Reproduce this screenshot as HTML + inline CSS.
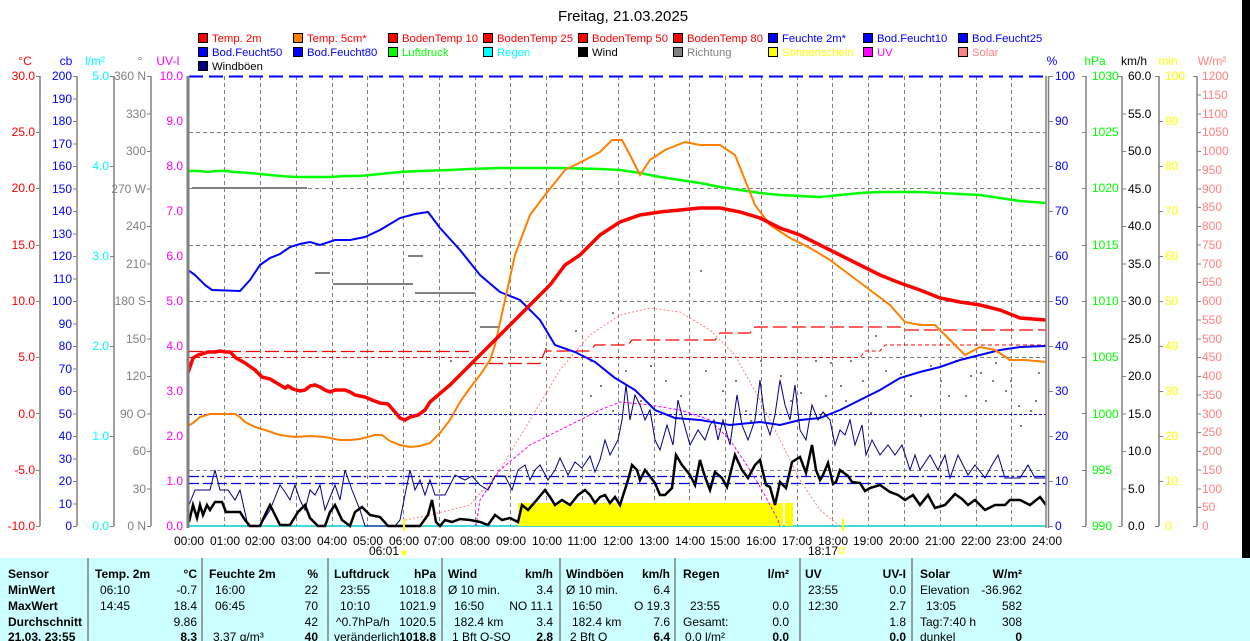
<!DOCTYPE html>
<html><head><meta charset="utf-8"><style>
html,body{margin:0;padding:0;background:#fff;}
svg{display:block;font-family:"Liberation Sans",Arial,sans-serif;}
</style></head><body>
<svg width="1250" height="641" viewBox="0 0 1250 641" xmlns="http://www.w3.org/2000/svg">
<rect x="0" y="0" width="1250" height="641" fill="#fff"/>
<rect x="1242" y="0" width="8" height="558" fill="#000"/>
<text x="623" y="21" font-size="15" text-anchor="middle" fill="#000">Freitag, 21.03.2025</text>

<!-- legend -->
<g font-size="11.3">
<g stroke="#000" stroke-width="1">
<rect x="198.5" y="33.5" width="9" height="9" fill="#f00"/><rect x="293.5" y="33.5" width="9" height="9" fill="#ff8000"/><rect x="388.5" y="33.5" width="9" height="9" fill="#f00"/><rect x="483.5" y="33.5" width="9" height="9" fill="#f00"/><rect x="578.5" y="33.5" width="9" height="9" fill="#f00"/><rect x="673.5" y="33.5" width="9" height="9" fill="#f00"/><rect x="768.5" y="33.5" width="9" height="9" fill="#00f"/><rect x="863.5" y="33.5" width="9" height="9" fill="#00f"/><rect x="958.5" y="33.5" width="9" height="9" fill="#00f"/>
<rect x="198.5" y="47.5" width="9" height="9" fill="#00f"/><rect x="293.5" y="47.5" width="9" height="9" fill="#00f"/><rect x="388.5" y="47.5" width="9" height="9" fill="#0f0"/><rect x="483.5" y="47.5" width="9" height="9" fill="#0ff"/><rect x="578.5" y="47.5" width="9" height="9" fill="#000"/><rect x="673.5" y="47.5" width="9" height="9" fill="#808080"/><rect x="768.5" y="47.5" width="9" height="9" fill="#ff0"/><rect x="863.5" y="47.5" width="9" height="9" fill="#f0f"/><rect x="958.5" y="47.5" width="9" height="9" fill="#ff8080"/>
<rect x="198.5" y="61.5" width="9" height="9" fill="#000080"/>
</g>
<text x="212" y="42" fill="#f00">Temp. 2m</text><text x="307" y="42" fill="#f00">Temp. 5cm*</text><text x="402" y="42" fill="#f00">BodenTemp 10</text><text x="497" y="42" fill="#f00">BodenTemp 25</text><text x="592" y="42" fill="#f00">BodenTemp 50</text><text x="687" y="42" fill="#f00">BodenTemp 80</text><text x="782" y="42" fill="#00f">Feuchte 2m*</text><text x="877" y="42" fill="#00f">Bod.Feucht10</text><text x="972" y="42" fill="#00f">Bod.Feucht25</text>
<text x="212" y="56" fill="#00f">Bod.Feucht50</text><text x="307" y="56" fill="#00f">Bod.Feucht80</text><text x="402" y="56" fill="#0f0">Luftdruck</text><text x="497" y="56" fill="#0ff">Regen</text><text x="592" y="56" fill="#000">Wind</text><text x="687" y="56" fill="#808080">Richtung</text><text x="782" y="56" fill="#ff0">Sonnenschein</text><text x="877" y="56" fill="#f0f">UV</text><text x="972" y="56" fill="#ff8080">Solar</text>
<text x="212" y="70" fill="#000">Windböen</text>
</g>

<!-- axis titles -->
<g font-size="12" text-anchor="middle">
<text x="25" y="65" fill="#f00">°C</text><text x="66" y="65" fill="#00f">cb</text><text x="95" y="65" fill="#0ff">l/m²</text><text x="140" y="65" fill="#808080">°</text><text x="168" y="65" fill="#f0f">UV-I</text>
<text x="1052" y="65" fill="#00f">%</text><text x="1095" y="65" fill="#0f0">hPa</text><text x="1134" y="65" fill="#000">km/h</text><text x="1168" y="65" fill="#ff0">min</text><text x="1212" y="65" fill="#ff8080">W/m²</text>
</g>

<!-- axis lines -->
<g stroke="#808080" stroke-width="1.5">
<line x1="40" y1="76" x2="40" y2="526"/><line x1="77" y1="76" x2="77" y2="526"/><line x1="114" y1="76" x2="114" y2="526"/><line x1="151" y1="76" x2="151" y2="526"/>
<line x1="1086" y1="76" x2="1086" y2="526"/><line x1="1122" y1="76" x2="1122" y2="526"/><line x1="1159" y1="76" x2="1159" y2="526"/><line x1="1197" y1="76" x2="1197" y2="526"/>
</g>

<!-- plot grid -->
<g stroke="#808080" stroke-width="1" stroke-dasharray="4,3" fill="none">
<path d="M224.5 76V526M260.5 76V526M296.5 76V526M332.5 76V526M367.5 76V526M403.5 76V526M439.5 76V526M475.5 76V526M510.5 76V526M546.5 76V526M582.5 76V526M618.5 76V526M654.5 76V526M689.5 76V526M725.5 76V526M761.5 76V526M797.5 76V526M832.5 76V526M868.5 76V526M904.5 76V526M940.5 76V526M976.5 76V526M1011.5 76V526"/>
<path d="M189 132.5H1046M189 188.5H1046M189 245.5H1046M189 301.5H1046M189 357.5H1046M189 470.5H1046"/>
</g>
<line x1="189" y1="526" x2="1046" y2="526" stroke="#0cc" stroke-width="1.5"/>

<!-- yellow sunshine -->
<path d="M518 526V503H783V526ZM785 526V503H793V526Z" fill="#ff0"/>

<!-- blue dashed horizontals -->
<line x1="189" y1="76.5" x2="1046" y2="76.5" stroke="#00f" stroke-width="2" stroke-dasharray="14,6"/>
<line x1="189" y1="414.5" x2="1046" y2="414.5" stroke="#00f" stroke-width="1" stroke-dasharray="3,2"/>
<line x1="189" y1="476.5" x2="1046" y2="476.5" stroke="#00f" stroke-width="1.3" stroke-dasharray="10,3,2,3"/>
<line x1="189" y1="483.5" x2="1046" y2="483.5" stroke="#00f" stroke-width="1.3" stroke-dasharray="10,4"/>

<!-- boden temps -->
<path d="M189 351.5H470M470 363.5H540L545 351H590L595 345H628L632 340H715L720 333H750L755 327H900L905 330H1046" stroke="#f00" stroke-width="1.2" fill="none" stroke-dasharray="14,5"/>
<path d="M189 357.5H860L865 351H880L885 345H1046" stroke="#f00" stroke-width="1" fill="none" stroke-dasharray="4,3"/>

<!-- wind direction dots -->
<g fill="#808080">
<path d="M192 187h115v2h-115zM315 272h15v2h-15zM333 283h80v2h-80zM415 292h60v2h-60zM480 326h20v2h-20zM408 255h15v2h-15z"/>
<rect x="560" y="300" width="2" height="2"/><rect x="575" y="330" width="2" height="2"/><rect x="590" y="360" width="2" height="2"/><rect x="612" y="312" width="2" height="2"/><rect x="640" y="400" width="2" height="2"/><rect x="665" y="380" width="2" height="2"/><rect x="700" y="270" width="2" height="2"/><rect x="722" y="390" width="2" height="2"/><rect x="750" y="420" width="2" height="2"/><rect x="780" y="375" width="2" height="2"/><rect x="800" y="392" width="2" height="2"/><rect x="815" y="360" width="2" height="2"/><rect x="840" y="385" width="2" height="2"/><rect x="850" y="360" width="2" height="2"/><rect x="875" y="335" width="2" height="2"/><rect x="900" y="373" width="2" height="2"/><rect x="920" y="415" width="2" height="2"/><rect x="940" y="380" width="2" height="2"/><rect x="955" y="360" width="2" height="2"/><rect x="965" y="395" width="2" height="2"/><rect x="980" y="372" width="2" height="2"/><rect x="992" y="380" width="2" height="2"/><rect x="1005" y="390" width="2" height="2"/><rect x="1018" y="405" width="2" height="2"/><rect x="1030" y="410" width="2" height="2"/><rect x="1020" y="425" width="2" height="2"/><rect x="985" y="400" width="2" height="2"/><rect x="1000" y="353" width="2" height="2"/><rect x="600" y="385" width="2" height="2"/><rect x="545" y="348" width="2" height="2"/><rect x="450" y="360" width="2" height="2"/>
<rect x="590" y="395" width="2" height="2"/><rect x="625" y="370" width="2" height="2"/><rect x="650" y="365" width="2" height="2"/><rect x="680" y="395" width="2" height="2"/><rect x="705" y="370" width="2" height="2"/><rect x="735" y="380" width="2" height="2"/><rect x="760" y="360" width="2" height="2"/><rect x="790" y="400" width="2" height="2"/><rect x="825" y="395" width="2" height="2"/><rect x="830" y="362" width="2" height="2"/><rect x="845" y="400" width="2" height="2"/><rect x="862" y="380" width="2" height="2"/><rect x="885" y="370" width="2" height="2"/><rect x="910" y="395" width="2" height="2"/><rect x="930" y="365" width="2" height="2"/><rect x="948" y="395" width="2" height="2"/><rect x="970" y="375" width="2" height="2"/><rect x="995" y="362" width="2" height="2"/><rect x="1010" y="380" width="2" height="2"/><rect x="1038" y="372" width="2" height="2"/><rect x="1035" y="400" width="2" height="2"/><rect x="870" y="412" width="2" height="2"/><rect x="612" y="410" width="2" height="2"/><rect x="745" y="410" width="2" height="2"/>
</g>

<!-- solar -->
<polyline points="405,520 430,515 470,505 500,470 530,420 560,370 590,335 620,315 650,308 680,312 710,330 735,355 760,400 780,440 800,480 820,510 840,526" fill="none" stroke="#ff8080" stroke-width="1" stroke-dasharray="2,2"/>
<!-- UV -->
<polyline points="476,526 480,500 500,470 530,445 560,430 580,420 600,410 620,402 650,405 680,410 710,420 730,440 750,470 762,490 778,520 780,526" fill="none" stroke="#f0f" stroke-width="1" stroke-dasharray="3,2"/>

<!-- Luftdruck -->
<polyline points="189,171 200,171 208,172 215,171 225,171 235,172 250,173 260,174 270,175 280,176 295,177 310,177 330,177 345,176 360,176 370,175 380,174 400,172 420,171 450,170 470,169 500,168 530,168 560,168 600,169 620,170 640,173 660,177 680,180 700,183 720,187 740,190 760,193 780,195 800,196 820,197 840,195 860,193 880,192 900,192 920,192 940,193 960,194 980,195 1000,198 1020,201 1046,203" fill="none" stroke="#0f0" stroke-width="2.5"/>

<!-- humidity -->
<polyline points="188,270 195,275 205,285 212,290 240,291 250,280 260,265 270,258 280,254 290,247 300,244 310,242 320,245 335,240 350,240 365,237 380,230 400,218 415,214 428,212 440,228 460,250 480,275 500,292 520,300 540,320 555,345 575,352 595,362 615,378 635,390 655,410 675,418 700,420 730,425 760,422 780,425 800,420 820,418 840,410 860,400 880,390 900,378 920,372 940,367 960,360 980,355 1000,350 1020,347 1046,346" fill="none" stroke="#00f" stroke-width="2"/>

<!-- temp 5cm -->
<polyline points="188,426 193,423 200,417 210,414 220,414 235,414 240,417 245,422 255,427 265,430 280,435 295,437 310,436 325,437 330,438 340,440 350,440 360,439 375,435 382,435 390,441 400,445 410,447 420,446 430,443 440,433 450,420 460,402 470,388 480,375 490,360 495,345 505,300 515,255 530,215 545,195 565,170 585,160 600,152 612,140 622,140 630,155 640,175 650,160 665,150 685,142 700,145 720,145 735,155 745,180 755,205 770,225 790,238 810,248 830,260 850,275 870,290 890,305 905,322 920,325 935,325 950,340 965,355 980,347 995,350 1010,360 1025,360 1046,362" fill="none" stroke="#ff8000" stroke-width="2"/>

<!-- temp 2m -->
<polyline points="188,373 193,358 198,355 202,354 208,352 215,352 220,351 225,352 230,352 236,358 245,363 255,370 262,377 270,379 275,382 280,385 285,388 288,386 293,389 300,391 305,390 310,386 315,385 320,387 325,390 330,392 335,390 345,390 350,392 355,395 360,396 365,397 372,400 380,403 388,404 395,412 400,418 405,420 410,417 418,415 425,410 430,402 450,385 470,365 490,345 510,325 530,305 550,285 565,265 580,255 600,235 620,222 640,215 660,212 680,210 700,208 720,208 740,212 760,218 780,228 800,235 820,245 840,255 860,265 880,275 900,283 920,290 940,298 960,302 980,305 1000,310 1020,318 1046,320" fill="none" stroke="#f00" stroke-width="3.5"/>

<!-- gusts -->
<polyline points="189,505 195,490 210,490 215,470 220,490 228,490 235,500 240,490 248,526 260,526 270,510 280,485 285,492 290,500 295,485 300,500 305,510 310,490 315,495 320,485 325,510 335,485 340,500 345,470 352,490 360,510 365,526 380,526 395,526 400,520 410,470 415,490 420,480 425,495 430,480 435,495 445,495 455,475 465,480 472,476 480,485 488,490 495,476 505,476 512,490 518,470 525,465 530,480 535,470 540,465 548,480 555,470 560,458 568,475 575,462 582,468 590,456 595,472 600,460 605,440 610,455 618,440 622,420 626,385 630,420 635,395 640,405 645,420 650,410 655,440 660,450 667,425 673,445 678,400 683,420 690,445 698,430 705,440 710,425 714,420 718,440 723,420 730,445 737,395 742,425 748,440 755,420 760,380 765,420 770,435 775,415 780,380 785,405 790,420 795,385 800,430 806,440 812,405 818,420 823,412 830,420 835,445 840,430 845,435 850,420 855,445 862,425 866,455 872,440 880,455 888,445 895,455 902,445 910,470 915,455 920,470 930,455 938,470 945,455 950,478 958,455 968,475 975,465 985,478 992,465 998,455 1005,478 1020,478 1028,465 1035,478 1046,478" fill="none" stroke="#000080" stroke-width="1"/>

<!-- wind -->
<polyline points="189,522 193,505 197,518 200,505 203,515 207,505 210,510 215,502 222,502 226,512 240,512 245,520 250,526 260,526 265,515 270,505 275,515 280,525 290,525 298,512 305,505 310,518 318,526 325,526 330,512 335,505 342,520 350,526 355,512 362,507 370,515 380,517 388,526 400,526 420,526 428,515 432,500 436,522 440,526 445,520 452,522 460,519 470,520 480,522 488,525 495,515 502,520 510,518 518,522 522,505 528,510 535,502 545,490 550,497 555,505 562,500 570,505 578,495 585,490 590,495 595,503 600,497 605,495 610,503 615,497 620,505 628,480 632,465 637,470 640,480 645,470 655,483 660,495 665,495 672,488 676,455 682,465 690,475 695,485 700,460 705,477 710,490 715,472 722,478 727,487 735,455 742,470 748,478 755,465 760,460 766,485 770,487 775,505 780,482 786,488 792,462 800,457 806,473 812,445 816,470 820,480 823,475 828,463 833,484 836,482 840,470 848,476 852,482 860,483 865,491 870,488 880,485 890,492 898,495 905,500 913,495 920,505 928,495 935,508 945,505 955,494 962,499 968,505 975,500 985,510 995,505 1005,505 1010,500 1020,500 1030,505 1040,497 1046,505" fill="none" stroke="#000" stroke-width="2.5"/>

<!-- plot frame -->
<line x1="188" y1="76" x2="188" y2="528" stroke="#808080" stroke-width="3"/>
<line x1="1046" y1="76" x2="1046" y2="528" stroke="#808080" stroke-width="1.5"/>
<line x1="1048.5" y1="76" x2="1048.5" y2="528" stroke="#808080" stroke-width="1.5"/>
<line x1="404" y1="519" x2="404" y2="531" stroke="#ff0" stroke-width="2"/>
<line x1="843" y1="519" x2="843" y2="531" stroke="#ff0" stroke-width="2"/>

<!-- time labels -->
<g font-size="12" text-anchor="middle" fill="#000">
<text x="189" y="545">00:00</text><text x="225" y="545">01:00</text><text x="260" y="545">02:00</text><text x="296" y="545">03:00</text><text x="332" y="545">04:00</text><text x="368" y="545">05:00</text><text x="404" y="545">06:00</text><text x="439" y="545">07:00</text><text x="475" y="545">08:00</text><text x="511" y="545">09:00</text><text x="547" y="545">10:00</text><text x="582" y="545">11:00</text><text x="618" y="545">12:00</text><text x="654" y="545">13:00</text><text x="690" y="545">14:00</text><text x="725" y="545">15:00</text><text x="761" y="545">16:00</text><text x="797" y="545">17:00</text><text x="833" y="545">18:00</text><text x="868" y="545">19:00</text><text x="904" y="545">20:00</text><text x="940" y="545">21:00</text><text x="976" y="545">22:00</text><text x="1011" y="545">23:00</text><text x="1047" y="545">24:00</text>
<text x="384" y="555">06:01</text><text x="823" y="555">18:17</text>
</g>
<text x="404" y="556" font-size="10" fill="#ff0" text-anchor="middle">★</text>
<rect x="839" y="548" width="5" height="5" fill="none" stroke="#ff0"/>

<!-- table -->
<rect x="0" y="558" width="1250" height="83" fill="#ccffff"/>
<g stroke="#808080" stroke-width="1.5">
<line x1="88" y1="558" x2="88" y2="641"/><line x1="202" y1="558" x2="202" y2="641"/><line x1="328" y1="558" x2="328" y2="641"/><line x1="442" y1="558" x2="442" y2="641"/><line x1="560" y1="558" x2="560" y2="641"/><line x1="675" y1="558" x2="675" y2="641"/><line x1="800" y1="558" x2="800" y2="641"/><line x1="912" y1="558" x2="912" y2="641"/>
</g>
<g font-size="12" fill="#000">
<g font-weight="bold">
<text x="8" y="578">Sensor</text><text x="8" y="594">MinWert</text><text x="8" y="610">MaxWert</text><text x="8" y="626">Durchschnitt</text><text x="8" y="641">21.03. 23:55</text>
<text x="95" y="578">Temp. 2m</text><text x="197" y="578" text-anchor="end">°C</text>
<text x="209" y="578">Feuchte 2m</text><text x="318" y="578" text-anchor="end">%</text>
<text x="334" y="578">Luftdruck</text><text x="436" y="578" text-anchor="end">hPa</text>
<text x="448" y="578">Wind</text><text x="553" y="578" text-anchor="end">km/h</text>
<text x="566" y="578">Windböen</text><text x="670" y="578" text-anchor="end">km/h</text>
<text x="683" y="578">Regen</text><text x="789" y="578" text-anchor="end">l/m²</text>
<text x="805" y="578">UV</text><text x="906" y="578" text-anchor="end">UV-I</text>
<text x="920" y="578">Solar</text><text x="1022" y="578" text-anchor="end">W/m²</text>
<text x="197" y="641" text-anchor="end">8.3</text><text x="318" y="641" text-anchor="end">40</text><text x="436" y="641" text-anchor="end">1018.8</text><text x="553" y="641" text-anchor="end">2.8</text><text x="670" y="641" text-anchor="end">6.4</text><text x="789" y="641" text-anchor="end">0.0</text><text x="906" y="641" text-anchor="end">0.0</text><text x="1022" y="641" text-anchor="end">0</text>
</g>
<text x="100" y="594">06:10</text><text x="197" y="594" text-anchor="end">-0.7</text>
<text x="100" y="610">14:45</text><text x="197" y="610" text-anchor="end">18.4</text>
<text x="197" y="626" text-anchor="end">9.86</text>
<text x="215" y="594">16:00</text><text x="318" y="594" text-anchor="end">22</text>
<text x="215" y="610">06:45</text><text x="318" y="610" text-anchor="end">70</text>
<text x="318" y="626" text-anchor="end">42</text>
<text x="213" y="641">3.37 g/m³</text>
<text x="340" y="594">23:55</text><text x="436" y="594" text-anchor="end">1018.8</text>
<text x="340" y="610">10:10</text><text x="436" y="610" text-anchor="end">1021.9</text>
<text x="336" y="626">^0.7hPa/h</text><text x="436" y="626" text-anchor="end">1020.5</text>
<text x="334" y="641">veränderlich</text>
<text x="448" y="594">Ø 10 min.</text><text x="553" y="594" text-anchor="end">3.4</text>
<text x="454" y="610">16:50</text><text x="553" y="610" text-anchor="end">NO 11.1</text>
<text x="454" y="626">182.4 km</text><text x="553" y="626" text-anchor="end">3.4</text>
<text x="452" y="641">1 Bft O-SO</text>
<text x="566" y="594">Ø 10 min.</text><text x="670" y="594" text-anchor="end">6.4</text>
<text x="572" y="610">16:50</text><text x="670" y="610" text-anchor="end">O 19.3</text>
<text x="572" y="626">182.4 km</text><text x="670" y="626" text-anchor="end">7.6</text>
<text x="570" y="641">2 Bft O</text>
<text x="690" y="610">23:55</text><text x="789" y="610" text-anchor="end">0.0</text>
<text x="683" y="626">Gesamt:</text><text x="789" y="626" text-anchor="end">0.0</text>
<text x="685" y="641">0.0 l/m²</text>
<text x="808" y="594">23:55</text><text x="906" y="594" text-anchor="end">0.0</text>
<text x="808" y="610">12:30</text><text x="906" y="610" text-anchor="end">2.7</text>
<text x="906" y="626" text-anchor="end">1.8</text>
<text x="920" y="594">Elevation</text><text x="1022" y="594" text-anchor="end">-36.962</text>
<text x="926" y="610">13:05</text><text x="1022" y="610" text-anchor="end">582</text>
<text x="920" y="626">Tag:7:40 h</text><text x="1022" y="626" text-anchor="end">308</text>
<text x="920" y="641">dunkel</text>
</g>

<!-- axis tick labels -->
<g font-size="12">
<g fill="#f00" text-anchor="end"><text x="35" y="80">30.0</text><text x="35" y="136">25.0</text><text x="35" y="192">20.0</text><text x="35" y="249">15.0</text><text x="35" y="305">10.0</text><text x="35" y="361">5.0</text><text x="35" y="418">0.0</text><text x="35" y="474">-5.0</text><text x="35" y="530">-10.0</text></g>
<g fill="#00f" text-anchor="end"><text x="72" y="80">200</text><text x="72" y="103">190</text><text x="72" y="125">180</text><text x="72" y="148">170</text><text x="72" y="170">160</text><text x="72" y="193">150</text><text x="72" y="215">140</text><text x="72" y="238">130</text><text x="72" y="260">120</text><text x="72" y="283">110</text><text x="72" y="305">100</text><text x="72" y="328">90</text><text x="72" y="350">80</text><text x="72" y="373">70</text><text x="72" y="395">60</text><text x="72" y="418">50</text><text x="72" y="440">40</text><text x="72" y="463">30</text><text x="72" y="485">20</text><text x="72" y="508">10</text><text x="72" y="530">0</text></g>
<g fill="#0ff" text-anchor="end"><text x="109" y="80">5.0</text><text x="109" y="170">4.0</text><text x="109" y="260">3.0</text><text x="109" y="350">2.0</text><text x="109" y="440">1.0</text><text x="109" y="530">0.0</text></g>
<g fill="#808080" text-anchor="end"><text x="146" y="80">360 N</text><text x="146" y="118">330</text><text x="146" y="155">300</text><text x="146" y="193">270 W</text><text x="146" y="230">240</text><text x="146" y="268">210</text><text x="146" y="305">180 S</text><text x="146" y="343">150</text><text x="146" y="380">120</text><text x="146" y="418">90 O</text><text x="146" y="455">60</text><text x="146" y="493">30</text><text x="146" y="530">0 N</text></g>
<g fill="#f0f" text-anchor="end"><text x="183" y="80">10.0</text><text x="183" y="125">9.0</text><text x="183" y="170">8.0</text><text x="183" y="215">7.0</text><text x="183" y="260">6.0</text><text x="183" y="305">5.0</text><text x="183" y="350">4.0</text><text x="183" y="395">3.0</text><text x="183" y="440">2.0</text><text x="183" y="485">1.0</text><text x="183" y="530">0.0</text></g>
<g fill="#00f"><text x="1055" y="80">100</text><text x="1055" y="125">90</text><text x="1055" y="170">80</text><text x="1055" y="215">70</text><text x="1055" y="260">60</text><text x="1055" y="305">50</text><text x="1055" y="350">40</text><text x="1055" y="395">30</text><text x="1055" y="440">20</text><text x="1055" y="485">10</text><text x="1055" y="530">0</text></g>
<g fill="#0f0"><text x="1092" y="80">1030</text><text x="1092" y="136">1025</text><text x="1092" y="192">1020</text><text x="1092" y="249">1015</text><text x="1092" y="305">1010</text><text x="1092" y="361">1005</text><text x="1092" y="418">1000</text><text x="1092" y="474">995</text><text x="1092" y="530">990</text></g>
<g fill="#000"><text x="1128" y="80">60.0</text><text x="1128" y="118">55.0</text><text x="1128" y="155">50.0</text><text x="1128" y="193">45.0</text><text x="1128" y="230">40.0</text><text x="1128" y="268">35.0</text><text x="1128" y="305">30.0</text><text x="1128" y="343">25.0</text><text x="1128" y="380">20.0</text><text x="1128" y="418">15.0</text><text x="1128" y="455">10.0</text><text x="1128" y="493">5.0</text><text x="1128" y="530">0.0</text></g>
<g fill="#ff0"><text x="1165" y="80">100</text><text x="1165" y="125">90</text><text x="1165" y="170">80</text><text x="1165" y="215">70</text><text x="1165" y="260">60</text><text x="1165" y="305">50</text><text x="1165" y="350">40</text><text x="1165" y="395">30</text><text x="1165" y="440">20</text><text x="1165" y="485">10</text><text x="1165" y="530">0</text></g>
<g fill="#ff8080"><text x="1202" y="80">1200</text><text x="1202" y="99">1150</text><text x="1202" y="118">1100</text><text x="1202" y="136">1050</text><text x="1202" y="155">1000</text><text x="1202" y="174">950</text><text x="1202" y="193">900</text><text x="1202" y="211">850</text><text x="1202" y="230">800</text><text x="1202" y="249">750</text><text x="1202" y="268">700</text><text x="1202" y="286">650</text><text x="1202" y="305">600</text><text x="1202" y="324">550</text><text x="1202" y="343">500</text><text x="1202" y="361">450</text><text x="1202" y="380">400</text><text x="1202" y="399">350</text><text x="1202" y="418">300</text><text x="1202" y="436">250</text><text x="1202" y="455">200</text><text x="1202" y="474">150</text><text x="1202" y="493">100</text><text x="1202" y="511">50</text><text x="1202" y="530">0</text></g>
</g>
<!-- ticks -->
<g stroke="#808080" stroke-width="1">
<path d="M36 76.5h4M36 132.5h4M36 188.5h4M36 245.5h4M36 301.5h4M36 357.5h4M36 413.5h4M36 470.5h4M36 526.5h4"/>
<path d="M73 76.5h4M73 99h4M73 121.5h4M73 144h4M73 166.5h4M73 189h4M73 211.5h4M73 234h4M73 256.5h4M73 279h4M73 301.5h4M73 324h4M73 346.5h4M73 369h4M73 391.5h4M73 414h4M73 436.5h4M73 459h4M73 481.5h4M73 504h4M73 526.5h4"/>
<path d="M110 76.5h4M110 166.5h4M110 256.5h4M110 346.5h4M110 436.5h4M110 526.5h4"/>
<path d="M147 76.5h4M147 114h4M147 151.5h4M147 189h4M147 226.5h4M147 264h4M147 301.5h4M147 339h4M147 376.5h4M147 414h4M147 451.5h4M147 489h4M147 526.5h4"/>
<path d="M1049 76.5h4M1049 121.5h4M1049 166.5h4M1049 211.5h4M1049 256.5h4M1049 301.5h4M1049 346.5h4M1049 391.5h4M1049 436.5h4M1049 481.5h4M1049 526.5h4"/>
<path d="M1082 76.5h4M1082 132.5h4M1082 188.5h4M1082 245.5h4M1082 301.5h4M1082 357.5h4M1082 413.5h4M1082 470.5h4M1082 526.5h4"/>
<path d="M1118 76.5h4M1122 114h4M1122 151.5h4M1122 189h4M1122 226.5h4M1122 264h4M1122 301.5h4M1122 339h4M1122 376.5h4M1122 414h4M1122 451.5h4M1122 489h4M1118 526.5h4"/>
<path d="M1155 76.5h4M1159 121.5h4M1159 166.5h4M1159 211.5h4M1159 256.5h4M1159 301.5h4M1159 346.5h4M1159 391.5h4M1159 436.5h4M1159 481.5h4M1155 526.5h4"/>
<path d="M1193 76.5h4M1197 95h4M1197 114h4M1197 132.5h4M1197 151.5h4M1197 170h4M1197 189h4M1197 207.5h4M1197 226.5h4M1197 245h4M1197 264h4M1197 282.5h4M1197 301.5h4M1197 320h4M1197 339h4M1197 357.5h4M1197 376.5h4M1197 395h4M1197 414h4M1197 432.5h4M1197 451.5h4M1197 470h4M1197 489h4M1197 507.5h4M1193 526.5h4"/>
</g>
</svg>
</body></html>
